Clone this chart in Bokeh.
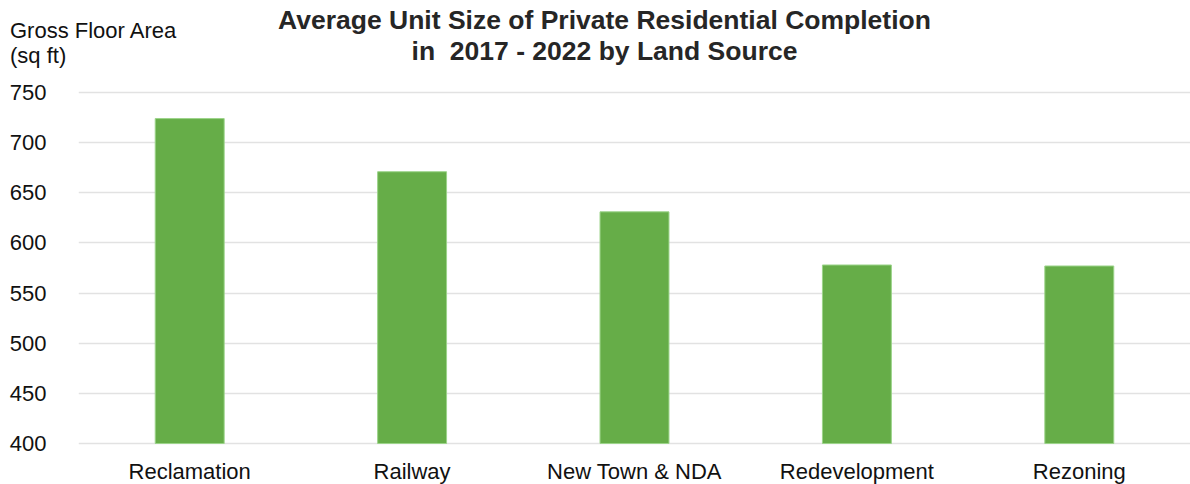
from bokeh.plotting import figure
from bokeh.models import Range1d, LabelSet, FixedTicker, ColumnDataSource, Div
from bokeh.core.properties import value
from bokeh.layouts import column
from bokeh.embed import file_html
from bokeh.resources import INLINE

categories = ["Reclamation", "Railway", "New Town & NDA", "Redevelopment", "Rezoning"]
unit_size = [724, 671, 631, 578, 577]
y_ticks = [400, 450, 500, 550, 600, 650, 700, 750]
title_lines = ["Average Unit Size of Private Residential Completion",
               "in  2017 - 2022 by Land Source"]
y_label_lines = ["Gross Floor Area", "(sq ft)"]

FONT = "Liberation Sans"
W, H = 1190, 484
HEAD_H = 72
BODY_H = H - HEAD_H
LEFT = 78
TOP_PX, BOT_PX = 92, 443          # pixel rows of 750 and 400
k = 350 / (BOT_PX - TOP_PX)       # data units per pixel

# ---- header: title and y-axis caption ----
head_html = (
    f'<div style="position:relative;width:{W}px;height:{HEAD_H}px;'
    f'font-family:\'{FONT}\',sans-serif;margin:0;padding:0;overflow:hidden;">'
    f'<div style="position:absolute;left:0;top:5px;width:1209px;text-align:center;'
    f'font-weight:bold;font-size:26.5px;line-height:31px;color:#262626;white-space:pre;">'
    f'{title_lines[0]}<br>{title_lines[1]}</div>'
    f'<div style="position:absolute;left:10px;top:18px;font-size:22px;line-height:25px;'
    f'color:#111111;white-space:pre;">{y_label_lines[0]}<br>{y_label_lines[1]}</div>'
    '</div>'
)
head = Div(text=head_html, width=W, height=HEAD_H, margin=0)

# ---- chart body ----
p = figure(x_range=categories,
           y_range=Range1d(400 - (H - BOT_PX) * k, 750 + (TOP_PX - HEAD_H) * k),
           width=W, height=BODY_H, output_backend="svg", toolbar_location=None,
           min_border_left=LEFT, min_border_right=0, min_border_top=0, min_border_bottom=0,
           margin=0)
p.outline_line_color = None
p.border_fill_color = "white"
p.background_fill_color = "white"
p.xaxis.visible = False

p.vbar(x=categories, top=unit_size, bottom=400, width=0.31,
       fill_color="#66ad48", line_color="#9cd48a", line_width=1)

ticker = FixedTicker(ticks=y_ticks)
p.xgrid.grid_line_color = None
p.ygrid.ticker = ticker
p.ygrid.grid_line_color = "#e2e2e2"
p.ygrid.grid_line_width = 1.5

ax = p.yaxis[0]
ax.ticker = ticker
ax.axis_line_color = None
ax.major_tick_line_color = None
ax.minor_tick_line_color = None
ax.major_label_text_font = FONT
ax.major_label_text_font_size = "22px"
ax.major_label_text_color = "#111111"
ax.major_label_standoff = 26

lbl_src = ColumnDataSource(dict(x=categories, t=categories))
p.add_layout(LabelSet(x="x", y=H - 478, y_units="screen", text="t", source=lbl_src,
                      text_font=value(FONT), text_font_size=value("22px"),
                      text_color=value("#111111"),
                      text_align="center", text_baseline="alphabetic"))

layout = column(head, p, spacing=0, margin=0)
open("out.html", "w").write(file_html(layout, INLINE))
